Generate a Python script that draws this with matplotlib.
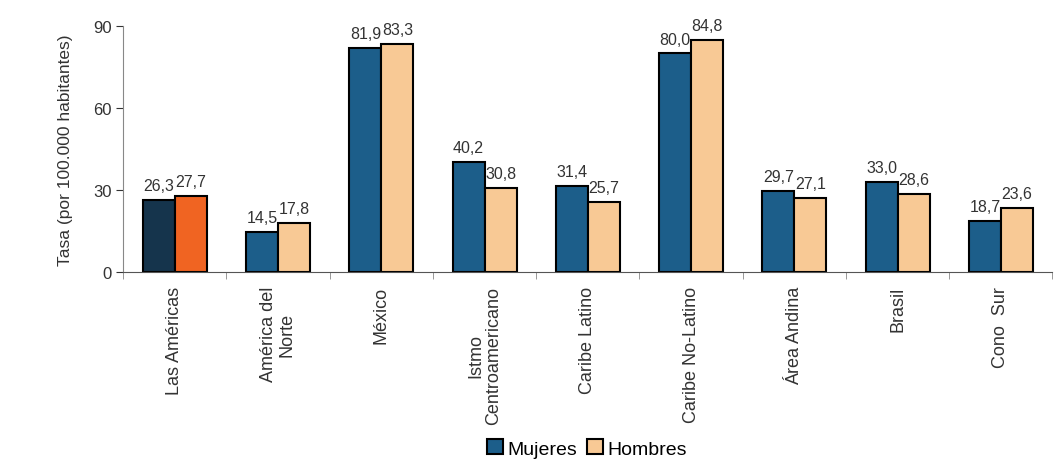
import numpy as np
import matplotlib
matplotlib.use("Agg")
import matplotlib.pyplot as plt
from matplotlib.patches import Patch

plt.rcParams['font.family'] = ['Liberation Sans', 'DejaVu Sans']

categories = ["Las Américas", "América del\nNorte", "México", "Istmo\nCentroamericano",
              "Caribe Latino", "Caribe No-Latino", "Área Andina", "Brasil", "Cono  Sur"]
mujeres = [26.3, 14.5, 81.9, 40.2, 31.4, 80.0, 29.7, 33.0, 18.7]
hombres = [27.7, 17.8, 83.3, 30.8, 25.7, 84.8, 27.1, 28.6, 23.6]

c_muj = "#1c5e8a"
c_hom = "#f8c995"
c_muj_tot = "#15344c"
c_hom_tot = "#f06422"

fig = plt.figure(figsize=(10.62, 4.60), dpi=100)
ax = fig.add_axes([0.116, 0.4065, 0.875, 0.5345])

x = np.arange(len(categories))
w = 0.31
cm = [c_muj_tot] + [c_muj] * (len(x) - 1)
ch = [c_hom_tot] + [c_hom] * (len(x) - 1)
b1 = ax.bar(x - w / 2, mujeres, w, color=cm, edgecolor="black", linewidth=1.5)
b2 = ax.bar(x + w / 2, hombres, w, color=ch, edgecolor="black", linewidth=1.5)

def fmt(v):
    return ("%.1f" % v).replace(".", ",")

for rects, vals in ((b1, mujeres), (b2, hombres)):
    for r, v in zip(rects, vals):
        ax.annotate(fmt(v), (r.get_x() + r.get_width() / 2, v),
                    xytext=(0, 5), textcoords="offset points",
                    ha="center", va="bottom", fontsize=11.5, color="#333333")

ax.set_xlim(-0.5, len(x) - 0.5)
ax.set_ylim(0, 90)
ax.set_yticks([0, 30, 60, 90])
ax.tick_params(axis="y", labelsize=12, colors="#333333", length=5, direction="out")
ax.set_ylabel("Tasa (por 100.000 habitantes)", fontsize=12.5, color="#333333", labelpad=14)

ax.set_xticks(x)
ax.set_xticklabels(categories, rotation=90, va="top", ha="center", fontsize=13,
                   color="#333333", linespacing=1.1, multialignment="center")
ax.tick_params(axis="x", length=0, pad=10)
ax.set_xticks(np.arange(len(x) + 1) - 0.5, minor=True)
ax.tick_params(axis="x", which="minor", length=5, direction="out", color="#888888")

for s in ("top", "right"):
    ax.spines[s].set_visible(False)
ax.spines["left"].set_color("#888888")
ax.spines["bottom"].set_color("#555555")

handles = [Patch(facecolor=c_muj, edgecolor="black", linewidth=1.5, label="Mujeres"),
           Patch(facecolor=c_hom, edgecolor="black", linewidth=1.5, label="Hombres")]
fig.legend(handles=handles, loc="lower center", bbox_to_anchor=(0.553, -0.035), ncol=2,
           frameon=False, fontsize=14, handlelength=0.8, handleheight=0.8,
           handletextpad=0.25, columnspacing=0.5)

plt.savefig("out.png", dpi=100)
